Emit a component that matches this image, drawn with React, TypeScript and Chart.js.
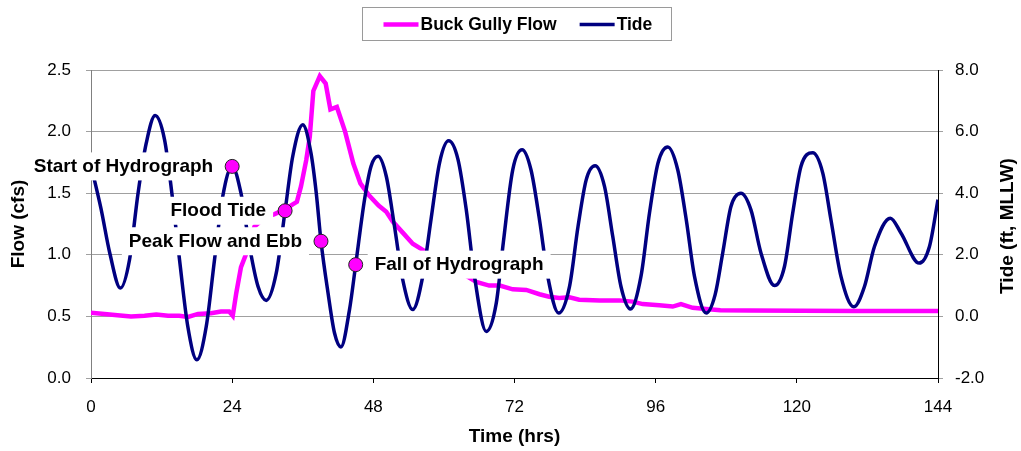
import React, { useEffect, useRef } from 'react';
import { Chart, registerables } from 'chart.js';

Chart.register(...registerables);

const FONT = 'Arial, "Liberation Sans", sans-serif';

const seriesNames = ['Buck Gully Flow', 'Tide'];
const axisTitles = { x: 'Time (hrs)', y: 'Flow (cfs)', y1: 'Tide (ft, MLLW)' };

const flowHours = [
  0, 2.3, 4.5, 6.8, 9.1, 11.1, 13.1, 15.0, 16.5, 18.2, 20.4, 22.1, 23.5, 24.1, 24.7, 25.5, 26.4,
  27.8, 29.5, 31.2, 33.0, 34.3, 35.0, 35.7, 36.6, 37.2, 37.8, 38.9, 39.9, 40.7, 41.8, 43.2, 44.6,
  45.8, 47.3, 48.9, 50.2, 51.3, 53.0, 54.7, 56.4, 58.5, 60.5, 62.5, 63.8, 65.5, 67.7, 69.5, 71.7,
  74.0, 76.25, 77.9, 79.6, 81.35, 83.0, 86.5, 89.8, 92.1, 93.8, 96.6, 98.9, 100.3, 102.3, 104.6,
  107.0, 112.0, 120.7, 130.0, 144.0,
];
const flowValues = [
  0.53, 0.52, 0.51, 0.5, 0.505, 0.515, 0.505, 0.505, 0.495, 0.52, 0.525, 0.54, 0.54, 0.505, 0.69, 0.9, 1.01,
  1.23, 1.3, 1.33, 1.37, 1.41, 1.43, 1.555, 1.77, 1.96, 2.33, 2.45, 2.39, 2.18, 2.2, 2.0, 1.74,
  1.58, 1.48, 1.4, 1.35, 1.27, 1.18, 1.09, 1.04, 0.98, 0.93, 0.87, 0.83, 0.78, 0.75, 0.75, 0.72,
  0.715, 0.68, 0.66, 0.65, 0.655, 0.635, 0.63, 0.63, 0.62, 0.6, 0.59, 0.58, 0.6, 0.57, 0.56,
  0.55, 0.548, 0.545, 0.543, 0.543,
];

const tideHours = [
  0, 1.7, 3.2, 5.0, 6.55, 8.0, 9.4, 10.9, 12.5, 13.75, 15.05, 16.45, 18.0, 19.6, 21.0, 22.4, 24.0,
  25.5, 26.95, 28.4, 29.8, 31.5, 33.0, 34.3, 36.0, 37.4, 38.3, 39.1, 40.3, 41.4, 42.5, 43.95, 45.0,
  46.5, 47.6, 48.8, 50.2, 51.6, 53.0, 54.7, 56.4, 57.8, 59.25, 60.8, 62.4, 63.8, 65.2, 67.2, 68.9,
  70.1, 71.7, 73.3, 74.8, 76.25, 77.65, 79.5, 81.35, 82.8, 84.2, 85.7, 87.3, 88.7, 90.1, 91.7, 93.5,
  94.95, 96.4, 98.05, 99.75, 101.2, 102.6, 104.6, 106.1, 107.4, 108.8, 110.5, 112.2, 113.9, 116.2,
  117.9, 119.3, 120.7, 122.7, 124.4, 125.8, 127.5, 129.7, 131.5, 133.2, 135.9, 137.7, 140.8, 142.55, 144,
];
const tideValues = [
  4.9, 3.5, 2.05, 0.92, 1.84, 4.0, 5.63, 6.52, 5.74, 4.0, 1.84, -0.32, -1.41, -0.32, 1.84, 3.9, 4.87,
  4.0, 2.27, 0.97, 0.52, 1.41, 3.43, 5.2, 6.22, 5.3, 4.0, 2.44, 0.76, -0.54, -0.99, 0.22, 1.68,
  3.79, 4.87, 5.2, 4.55, 2.92, 1.19, 0.22, 1.3, 3.14, 4.98, 5.7, 5.09, 3.46, 1.3, -0.49, 0.43,
  2.4, 4.76, 5.41, 4.76, 3.14, 1.3, 0.11, 0.97, 2.92, 4.44, 4.89, 4.22, 2.6, 0.97, 0.24, 1.3,
  3.36, 4.98, 5.5, 4.76, 3.14, 1.3, 0.11, 0.7, 2.06, 3.57, 4.0, 3.46, 2.06, 1.0,
  1.62, 3.36, 4.87, 5.31, 4.66, 3.14, 1.3, 0.31, 0.97, 2.27, 3.19, 2.71, 1.73, 2.27, 3.79,
];

const markerHours = [24.0, 33.0, 39.1, 45.0];
const markerTide = [4.87, 3.43, 2.44, 1.68];
const markerLabels = ['Start of Hydrograph', 'Flood Tide', 'Peak Flow and Ebb', 'Fall of Hydrograph'];
const markerLabelSide = ['left', 'left', 'left', 'right'];

const timeTickLabels = [0, 24, 48, 72, 96, 120, 144];
const flowTickLabels = [0, 0.5, 1.0, 1.5, 2.0, 2.5];
const tideTickLabels = [-2, 0, 2, 4, 6, 8];

const pts = (xs: number[], ys: number[]) => xs.map((x, i) => ({ x, y: ys[i] }));

const markerLabelPlugin = {
  id: 'markerLabels',
  beforeDatasetDraw(chart: any, args: any) {
    if (args.index !== 2) return;
    const ctx = chart.ctx;
    const meta = chart.getDatasetMeta(2);
    ctx.save();
    ctx.font = `bold 19px ${FONT}`;
    ctx.textBaseline = 'middle';
    ctx.textAlign = 'left';
    meta.data.forEach((el: any, i: number) => {
      const text = markerLabels[i];
      const tw = ctx.measureText(text).width;
      const left = markerLabelSide[i] === 'left' ? el.x - 19 - tw : el.x + 19;
      ctx.fillStyle = '#ffffff';
      ctx.fillRect(left - 7, el.y - 14, tw + 14, 28);
      ctx.fillStyle = '#000000';
      ctx.fillText(text, left, el.y + 0.5);
    });
    ctx.restore();
  },
};

const rightTitlePlugin = {
  id: 'rightTitle',
  afterDraw(chart: any) {
    const ctx = chart.ctx;
    const s = chart.scales.y1;
    ctx.save();
    ctx.font = `bold 19px ${FONT}`;
    ctx.fillStyle = '#000';
    ctx.textAlign = 'center';
    ctx.textBaseline = 'middle';
    ctx.translate(s.right - 13.5, (s.top + s.bottom) / 2 + 2);
    ctx.rotate(-Math.PI / 2);
    ctx.fillText(axisTitles.y1, 0, 0);
    ctx.restore();
  },
};

const legendPlugin = {
  id: 'boxLegend',
  afterDraw(chart: any) {
    const ctx = chart.ctx;
    const ds = chart.data.datasets;
    ctx.save();
    ctx.font = `bold 17.5px ${FONT}`;
    const w1 = ctx.measureText(seriesNames[0]).width;
    const w2 = ctx.measureText(seriesNames[1]).width;
    const lineLen = 35;
    const gapText = 2;
    const itemGap = 23;
    const padL = 21;
    const padR = 19;
    const boxW = padL + lineLen + gapText + w1 + itemGap + lineLen + gapText + w2 + padR;
    const cx = (chart.chartArea.left + chart.chartArea.right) / 2 + 1.5;
    const left = Math.round(cx - boxW / 2) + 0.5;
    const top = 7.5;
    const h = 33;
    ctx.strokeStyle = '#9a9a9a';
    ctx.lineWidth = 1;
    ctx.strokeRect(left, top, Math.round(boxW), h);
    const cy = 24.5;
    let x = left + padL;
    const drawItem = (idx: number, w: number) => {
      ctx.beginPath();
      ctx.strokeStyle = ds[idx].borderColor;
      ctx.lineWidth = ds[idx].borderWidth;
      ctx.moveTo(x, cy);
      ctx.lineTo(x + lineLen, cy);
      ctx.stroke();
      x += lineLen + gapText;
      ctx.fillStyle = '#000';
      ctx.textBaseline = 'middle';
      ctx.textAlign = 'left';
      ctx.fillText(seriesNames[idx], x, cy + 0.5);
      x += w;
    };
    drawItem(0, w1);
    x += itemGap;
    drawItem(1, w2);
    ctx.restore();
  },
};

export default function App() {
  const canvasRef = useRef<HTMLCanvasElement | null>(null);

  useEffect(() => {
    document.body.style.margin = '0';
    document.body.style.overflow = 'hidden';
    const canvas = canvasRef.current;
    if (!canvas) return;

    const tickFont = { family: FONT, size: 17 };
    const titleFont = { family: FONT, size: 19, weight: 'bold' as const };

    const chart = new Chart(canvas, {
      type: 'line',
      data: {
        datasets: [
          {
            label: seriesNames[0],
            data: pts(flowHours, flowValues),
            borderColor: '#FF00FF',
            backgroundColor: '#FF00FF',
            borderWidth: 4.5,
            pointRadius: 0,
            tension: 0,
            yAxisID: 'y',
            order: 2,
          },
          {
            label: seriesNames[1],
            data: pts(tideHours, tideValues),
            borderColor: '#000080',
            backgroundColor: '#000080',
            borderWidth: 3.5,
            pointRadius: 0,
            cubicInterpolationMode: 'monotone',
            yAxisID: 'y1',
            order: 1,
          },
          {
            label: 'Events',
            data: pts(markerHours, markerTide),
            showLine: false,
            pointRadius: 7,
            pointBackgroundColor: '#FF00FF',
            pointBorderColor: '#222222',
            pointBorderWidth: 1,
            yAxisID: 'y1',
            order: 0,
          },
        ],
      },
      options: {
        responsive: false,
        animation: false,
        events: [],
        layout: { padding: { top: 70, left: 0, right: 0, bottom: 0 } },
        plugins: {
          legend: { display: false },
          tooltip: { enabled: false },
        },
        scales: {
          x: {
            type: 'linear',
            position: 'bottom',
            min: timeTickLabels[0],
            max: timeTickLabels[timeTickLabels.length - 1],
            afterBuildTicks: (s: any) => {
              s.ticks = timeTickLabels.map((v) => ({ value: v }));
            },
            ticks: {
              font: tickFont,
              color: '#000',
              padding: 14,
              maxRotation: 0,
              autoSkip: false,
              callback: (v: any) => String(v),
            },
            grid: { drawOnChartArea: false, drawTicks: true, tickLength: 5, color: '#000' },
            border: { color: '#000', width: 1 },
            title: {
              display: true,
              text: axisTitles.x,
              font: titleFont,
              color: '#000',
              padding: { top: 0, bottom: 3 },
            },
            afterFit: (s: any) => {
              s.height = 73;
            },
          },
          y: {
            type: 'linear',
            position: 'left',
            min: 0,
            max: 2.5,
            afterBuildTicks: (s: any) => {
              s.ticks = flowTickLabels.map((v) => ({ value: v }));
            },
            ticks: {
              font: tickFont,
              color: '#000',
              padding: 15,
              callback: (v: any) => Number(v).toFixed(1),
            },
            grid: { color: '#a0a0a0', tickLength: 5, lineWidth: 1 },
            border: { color: '#808080', width: 1 },
            title: {
              display: true,
              text: axisTitles.y,
              font: titleFont,
              color: '#000',
              padding: { top: 7, bottom: 0 },
            },
            afterFit: (s: any) => {
              s.width = 91;
            },
          },
          y1: {
            type: 'linear',
            position: 'right',
            min: -2,
            max: 8,
            afterBuildTicks: (s: any) => {
              s.ticks = tideTickLabels.map((v) => ({ value: v }));
            },
            ticks: {
              font: tickFont,
              color: '#000',
              padding: 12,
              callback: (v: any) => Number(v).toFixed(1),
            },
            grid: { drawOnChartArea: false, color: '#a0a0a0', tickLength: 5 },
            border: { color: '#000', width: 1 },
            title: { display: false },
            afterFit: (s: any) => {
              s.width = 83;
            },
          },
        },
      } as any,
      plugins: [markerLabelPlugin, legendPlugin, rightTitlePlugin],
    });

    return () => {
      chart.destroy();
    };
  }, []);

  return (
    <div style={{ width: 1021, height: 451, background: '#fff' }}>
      <canvas ref={canvasRef} width={1021} height={451} style={{ display: 'block' }} />
    </div>
  );
}
